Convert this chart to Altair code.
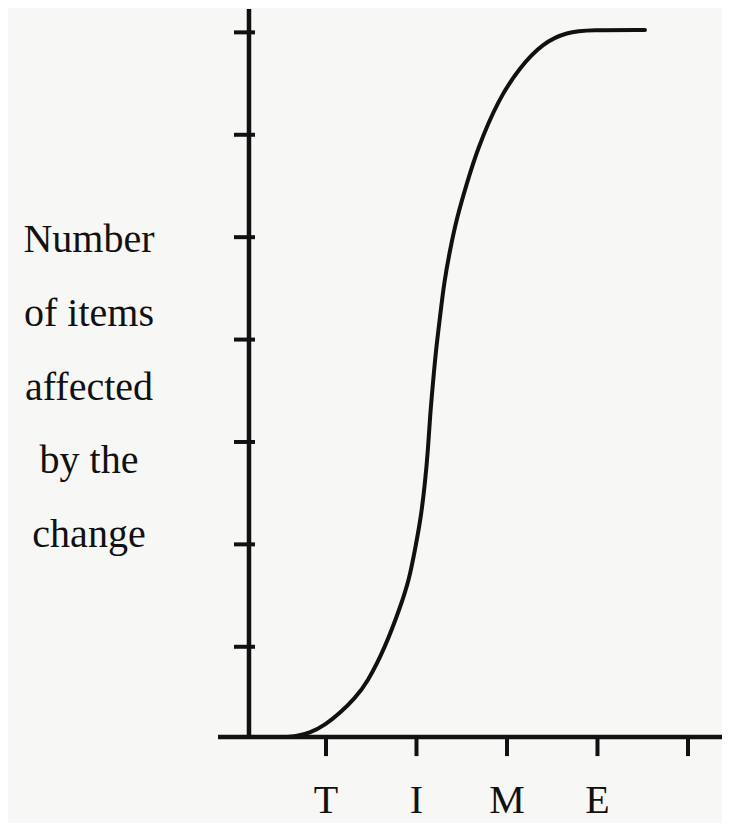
import altair as alt
import pandas as pd

# ---- values (time units: ticks at 1..5, item units: ticks at 1..7)
curve_time = [0.547, 0.680, 0.823, 0.989, 1.155, 1.320, 1.453, 1.652, 1.829, 1.917,
              1.983, 2.050, 2.094, 2.127, 2.149, 2.182, 2.215, 2.260, 2.304, 2.370,
              2.448, 2.558, 2.669, 2.901, 3.144, 3.398, 3.663, 3.917, 4.525]
curve_items = [0.118, 0.128, 0.158, 0.236, 0.353, 0.499, 0.646, 0.988, 1.408, 1.652,
               1.945, 2.267, 2.599, 2.921, 3.244, 3.576, 3.898, 4.220, 4.552, 4.875,
               5.197, 5.529, 5.851, 6.340, 6.662, 6.897, 7.004, 7.023, 7.023]

x_tick_values = [1, 2, 3, 4, 5]
y_tick_values = [1, 2, 3, 4, 5, 6, 7]
x_letters = ["T", "I", "M", "E"]
y_title_lines = ["Number", "of items", "affected", "by the", "change"]

# where the hand-drawn axes sit, in data units
origin_time = 0.149
origin_items = 0.118
x_axis_start = -0.193
x_axis_end = 5.376
y_axis_top = 7.228

INK = "#111111"
FONT = "Liberation Serif"

x_scale = alt.Scale(domain=[-2.514, 5.376], nice=False, zero=False)
y_scale = alt.Scale(domain=[-0.721, 7.238], nice=False, zero=False)


def X(field=None, datum=None):
    if datum is not None:
        return alt.X(datum=datum, type="quantitative", scale=x_scale, axis=None)
    return alt.X(field, type="quantitative", scale=x_scale, axis=None)


def Y(field=None, datum=None):
    if datum is not None:
        return alt.Y(datum=datum, type="quantitative", scale=y_scale, axis=None)
    return alt.Y(field, type="quantitative", scale=y_scale, axis=None)


curve_df = pd.DataFrame({"time": curve_time, "items": curve_items})
xt_df = pd.DataFrame({"t": x_tick_values})
yt_df = pd.DataFrame({"n": y_tick_values})
letters_df = pd.DataFrame({"t": x_tick_values[:len(x_letters)], "letter": x_letters})
xaxis_df = pd.DataFrame({"x0": [x_axis_start], "x1": [x_axis_end], "y": [origin_items]})
yaxis_df = pd.DataFrame({"x": [origin_time], "y0": [origin_items], "y1": [y_axis_top]})
one_df = pd.DataFrame({"k": [0]})

x_axis = alt.Chart(xaxis_df).mark_rule(color=INK, strokeWidth=4.5).encode(
    x=X("x0"), x2="x1", y=Y("y")
)
y_axis = alt.Chart(yaxis_df).mark_rule(color=INK, strokeWidth=4.5).encode(
    x=X("x"), y=Y("y0"), y2="y1"
)
x_ticks = alt.Chart(xt_df).mark_rule(color=INK, strokeWidth=4, y2Offset=19).encode(
    x=X("t"), y=Y(datum=origin_items), y2=alt.Y2(datum=origin_items)
)
y_ticks = alt.Chart(yt_df).mark_rule(color=INK, strokeWidth=4, xOffset=-15, x2Offset=6).encode(
    y=Y("n"), x=X(datum=origin_time), x2=alt.X2(datum=origin_time)
)
curve = alt.Chart(curve_df).mark_line(
    color=INK, strokeWidth=4, interpolate="basis", strokeCap="round"
).encode(x=X("time"), y=Y("items"))

letters = alt.Chart(letters_df).mark_text(
    font=FONT, fontSize=40, color=INK, align="center", baseline="alphabetic", dy=76
).encode(x=X("t"), y=Y(datum=origin_items), text="letter:N")

y_title = alt.Chart(one_df).mark_text(
    font=FONT, fontSize=40, color=INK, align="center", baseline="alphabetic",
    lineHeight=73.75, text=y_title_lines
).encode(x=X(datum=-1.619), y=Y(datum=4.855))

chart = alt.layer(
    x_axis, y_axis, x_ticks, y_ticks, curve, letters, y_title
).properties(
    width=714, height=815,
    autosize=alt.AutoSizeParams(type="none"),
    padding=0,
    background="#f7f7f5",
).configure_view(stroke=None)

chart.save("out.html", embed_options={"renderer": "svg", "actions": False})
